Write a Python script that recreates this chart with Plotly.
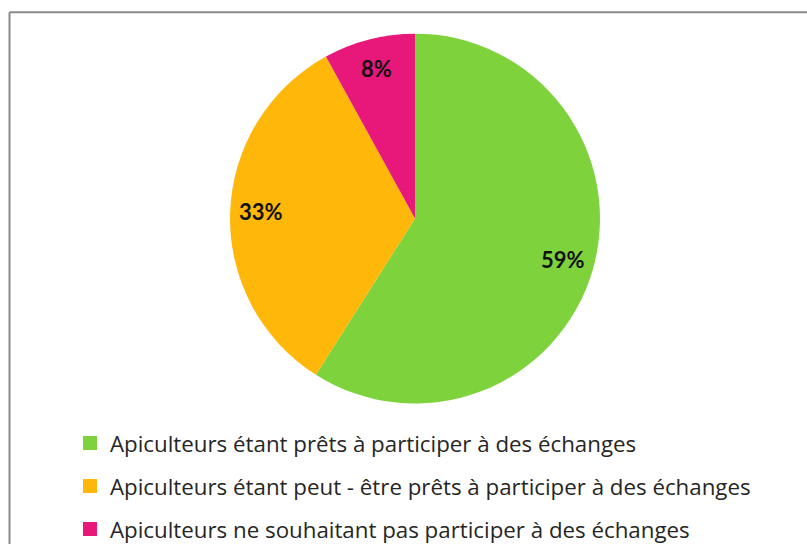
import math
import plotly.graph_objects as go

# Survey answers: willingness of beekeepers to take part in exchanges
categories = [
    "Apiculteurs étant prêts à participer à des échanges",
    "Apiculteurs étant peut - être prêts à participer à des échanges",
    "Apiculteurs ne souhaitant pas participer à des échanges",
]
shares = [59, 33, 8]
colors = ["#7ED33C", "#FFB70A", "#E8177A"]

W, H = 807, 550
cx, cy, r = 415, 219, 186
label_radius = 0.83

fig = go.Figure()

# the pie box is nudged slightly to keep the disc centred on (cx, cy)
box_cy, box_r = cy + 2, r + 1
fig.add_trace(go.Pie(
    labels=categories,
    values=shares,
    sort=False,
    direction="clockwise",
    rotation=0,
    marker=dict(colors=colors, line=dict(width=0)),
    textinfo="none",
    showlegend=False,
    hoverinfo="label+value",
    domain=dict(x=[(cx - box_r) / W, (cx + box_r) / W],
                y=[1 - (box_cy + box_r) / H, 1 - (box_cy - box_r) / H]),
))

# Percentage labels placed on each slice's mid-angle
total = sum(shares)
start = 0.0
for v in shares:
    mid = (start + v / 2) / total * 2 * math.pi
    start += v
    px = cx + label_radius * r * math.sin(mid)
    py = cy - label_radius * r * math.cos(mid)
    fig.add_annotation(
        x=px / W, y=1 - py / H, xref="paper", yref="paper",
        xanchor="center", yanchor="middle",
        text=f"<b>{v}%</b>", showarrow=False,
        font=dict(family="Lato", size=22, color="#111111"),
    )

# Legend entries: one square marker per category
for i, (name, col) in enumerate(zip(categories, colors)):
    fig.add_trace(go.Scatter(
        x=[None], y=[None], mode="markers", name=name,
        marker=dict(symbol="square", size=14, color=col),
        legendgroup=f"g{i}", showlegend=True, hoverinfo="skip",
    ))

# Frame lines along the top and left
fig.add_shape(type="line", xref="paper", yref="paper",
              x0=9.5 / W, x1=1, y0=1 - 12.5 / H, y1=1 - 12.5 / H,
              line=dict(color="#8a8a8a", width=2))
fig.add_shape(type="line", xref="paper", yref="paper",
              x0=9.5 / W, x1=9.5 / W, y0=0, y1=1 - 12.5 / H,
              line=dict(color="#8a8a8a", width=2))

fig.update_layout(
    width=W, height=H,
    margin=dict(l=0, r=0, t=0, b=0),
    paper_bgcolor="white", plot_bgcolor="white",
    xaxis=dict(visible=False), yaxis=dict(visible=False),
    legend=dict(
        x=(94 - 24) / W, xanchor="left",
        y=1 - 427 / H, yanchor="top",
        font=dict(family="Open Sans", size=22.3, color="#262626"),
        tracegroupgap=11, bgcolor="rgba(0,0,0,0)",
    ),
)

fig.write_html("out.html")
